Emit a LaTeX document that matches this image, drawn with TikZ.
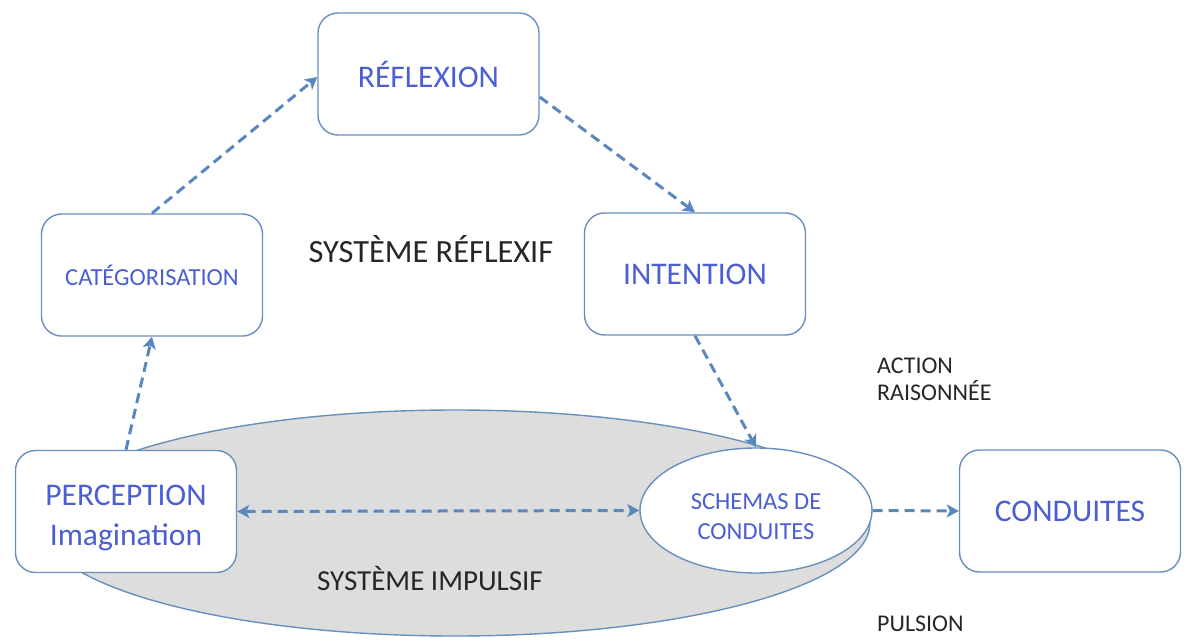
\documentclass[tikz,border=0pt]{standalone}
\usepackage{fontspec}
\setmainfont{Carlito}
\usetikzlibrary{arrows.meta,shapes.geometric}
\definecolor{edge}{HTML}{6A8FBF}
\definecolor{link}{HTML}{5A87BE}
\definecolor{label}{HTML}{4B5FD3}
\definecolor{impulse}{HTML}{DDDDDD}
\begin{document}
\begin{tikzpicture}[x=1pt,y=-1pt,
  stage/.style={draw=edge, line width=1.4pt, fill=white, rounded corners=20pt,
    minimum width=221pt, minimum height=122pt, text=label, align=center, inner sep=0pt},
  bigtext/.style={font=\fontsize{31.5}{40}\selectfont},
  smalltext/.style={font=\fontsize{24.5}{30}\selectfont},
  inlabel/.style={text=label, align=center, inner sep=0pt},
  flow/.style={draw=link, line width=3pt, dash pattern=on 10pt off 6pt,
    -{Stealth[length=12pt,width=13pt,inset=3pt]}},
  caption/.style={text=black!85, inner sep=0pt}]
\useasboundingbox (0,0) rectangle (1184,642);

% impulsive system: large grey ellipse behind the lower row
\node[ellipse, draw=edge, line width=1.4pt, fill=impulse,
  minimum width=830pt, minimum height=226pt, inner sep=0pt] (impulsif) at (455,523) {};
\node[ellipse, draw=edge, line width=1.4pt, fill=white,
  minimum width=232pt, minimum height=125pt, inner sep=0pt] (schemas) at (756,510.5) {};
\node[inlabel, smalltext] (schemastext) at ([yshift=-6pt]schemas.center) {SCHEMAS DE\\CONDUITES};

% boxes
\node[stage, bigtext] (reflexion) at (428.5,74) {RÉFLEXION};
\node[stage, smalltext] (categ) at (152,275) {CATÉGORISATION};
\node[stage, bigtext] (intention) at (695,274) {INTENTION};
\node[stage] (perception) at (126,511.5) {};
\node[inlabel, bigtext] (perceptiontext) at ([yshift=-6pt]perception.center) {PERCEPTION\\Imagination};
\node[stage, bigtext] (conduites) at (1070,511) {CONDUITES};

% free labels
\node[caption, anchor=base, font=\fontsize{32.4}{36}\selectfont] (reflexif) at (431,262) {SYSTÈME RÉFLEXIF};
\node[caption, anchor=base, font=\fontsize{29}{36}\selectfont] (impulsiflabel) at (430,590) {SYSTÈME IMPULSIF};
\node[caption, anchor=base west, align=left, font=\fontsize{24}{27}\selectfont] (action) at (877,400) {ACTION\\RAISONNÉE};
\node[caption, anchor=base west, font=\fontsize{24}{27}\selectfont] (pulsion) at (877,631) {PULSION};

% connectors
\draw[flow] (categ.north) -- ([yshift=-3pt]reflexion.west);
\draw[flow] ([yshift=-23pt]reflexion.east) -- (intention.north);
\draw[flow] (intention.south) -- (schemas.north);
\draw[flow] (perception.north) -- (categ.south);
\draw[flow, {Stealth[length=12pt,width=13pt,inset=3pt]}-{Stealth[length=12pt,width=13pt,inset=3pt]}]
  (perception.east) -- (schemas.west);
\draw[flow] (schemas.east) -- (conduites.west);
\end{tikzpicture}
\end{document}
